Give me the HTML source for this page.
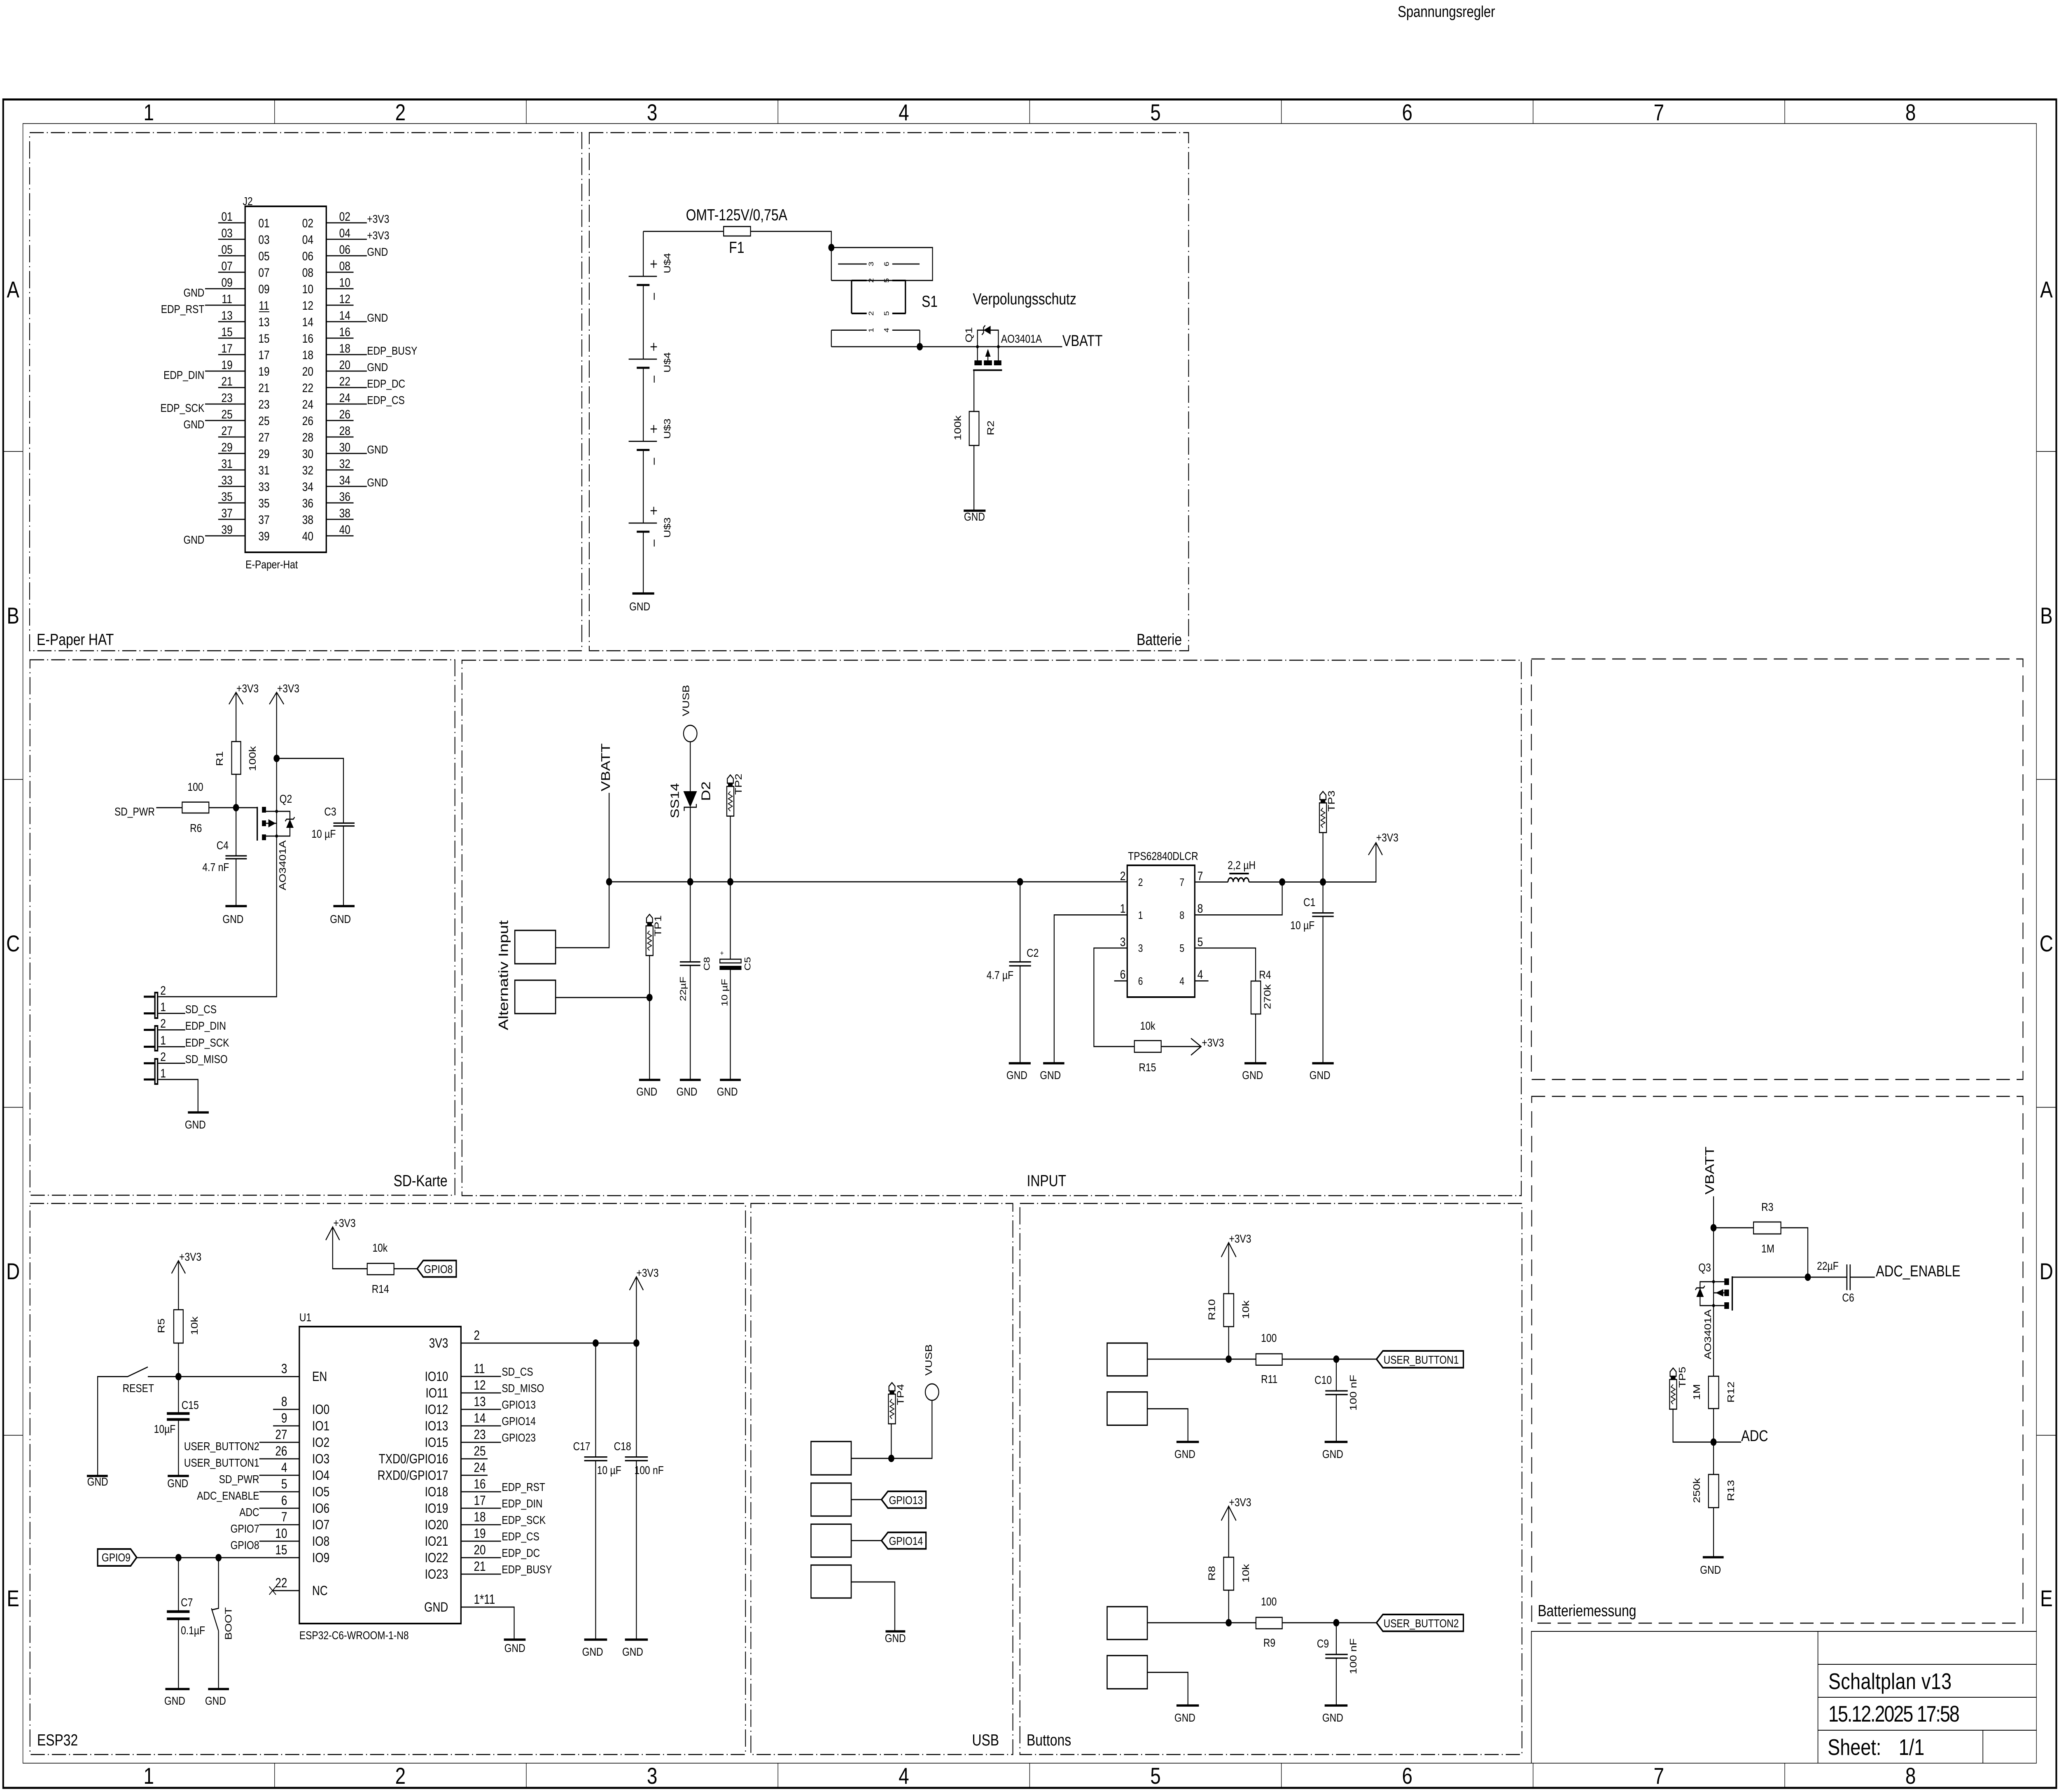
<!DOCTYPE html>
<html><head><meta charset="utf-8"><title>Schaltplan v13</title>
<style>
html,body{margin:0;padding:0;background:#fff;width:100%;height:100%;overflow:hidden}
svg{display:block;width:100vw;height:100vh;font-size:28px}
text{font-family:"Liberation Sans",sans-serif;fill:#000}
.w{stroke:#000;stroke-width:2.7;fill:none}
.b{stroke:#000;stroke-width:4;fill:none}
.g{stroke:#000;stroke-width:5.5;fill:none}
.p{stroke:#000;stroke-width:3.2;fill:none}
.dd{stroke:#000;stroke-width:2.5;fill:none;stroke-dasharray:42 9 3 9}
.ds{stroke:#000;stroke-width:2.5;fill:none;stroke-dasharray:40 20}
.r{dominant-baseline:central;text-anchor:middle}
.m{text-anchor:middle}
.e{text-anchor:end}
</style></head><body>
<svg viewBox="0 0 6115 4351" preserveAspectRatio="none" font-size="28" xmlns="http://www.w3.org/2000/svg">
<defs>
<g id="tp"><path class="w" d="M-9,20V9L0,0L9,9V20Z"/><rect x="-7" y="20" width="14" height="8"/><rect class="w" x="-10.5" y="28" width="21" height="72"/><path style="stroke:#000;stroke-width:2;fill:none" d="M0,40L-6,46L6,52L-6,58L6,64L-6,70L6,76L-6,82L0,88"/></g>
<circle id="j" r="9"/>
<circle id="s" r="4"/>
</defs>
<rect width="6115" height="4351" fill="#fff"/>

<!-- ===== Top title ===== -->
<text x="4151" y="41" font-size="38">Spannungsregler</text>

<!-- ===== Frame ===== -->
<rect x="9.5" y="241.5" width="6097.5" height="4099.5" fill="none" stroke="#000" stroke-width="5"/>
<rect x="68" y="300" width="5980" height="3981" fill="none" stroke="#000" stroke-width="1.6"/>
<path stroke="#000" stroke-width="1.6" fill="none" d="M815.5,241.5V300M1563,241.5V300M2310.5,241.5V300M3058,241.5V300M3805.5,241.5V300M4553,241.5V300M5300.5,241.5V300M815.5,4281V4341M1563,4281V4341M2310.5,4281V4341M3058,4281V4341M3805.5,4281V4341M4553,4281V4341M5300.5,4281V4341M9.5,1096.2H68M9.5,1892.4H68M9.5,2688.6H68M9.5,3484.8H68M6048,1096.2H6107M6048,1892.4H6107M6048,2688.6H6107M6048,3484.8H6107"/>
<g font-size="56" class="m">
<text x="441.75" y="292" font-size="56">1</text><text x="1189.25" y="292" font-size="56">2</text><text x="1936.75" y="292" font-size="56">3</text><text x="2684.25" y="292" font-size="56">4</text><text x="3431.75" y="292" font-size="56">5</text><text x="4179.25" y="292" font-size="56">6</text><text x="4926.75" y="292" font-size="56">7</text><text x="5674.25" y="292" font-size="56">8</text>
<text x="441.75" y="4331" font-size="56">1</text><text x="1189.25" y="4331" font-size="56">2</text><text x="1936.75" y="4331" font-size="56">3</text><text x="2684.25" y="4331" font-size="56">4</text><text x="3431.75" y="4331" font-size="56">5</text><text x="4179.25" y="4331" font-size="56">6</text><text x="4926.75" y="4331" font-size="56">7</text><text x="5674.25" y="4331" font-size="56">8</text>
<text x="38.75" y="722" font-size="56">A</text><text x="38.75" y="1514" font-size="56">B</text><text x="38.75" y="2310" font-size="56">C</text><text x="38.75" y="3106" font-size="56">D</text><text x="38.75" y="3900" font-size="56">E</text>
<text x="6077.5" y="722" font-size="56">A</text><text x="6077.5" y="1514" font-size="56">B</text><text x="6077.5" y="2310" font-size="56">C</text><text x="6077.5" y="3106" font-size="56">D</text><text x="6077.5" y="3900" font-size="56">E</text>
</g>

<!-- ===== Section boxes ===== -->
<rect class="dd" x="88" y="322" width="1640" height="1258"/>
<rect class="dd" x="1750" y="322" width="1780" height="1258"/>
<rect class="dd" x="89" y="1602" width="1262" height="1300"/>
<rect class="dd" x="1372" y="1603" width="3146" height="1300"/>
<rect class="dd" x="89" y="2922" width="2125" height="1338"/>
<rect class="dd" x="2230" y="2922" width="778" height="1338"/>
<rect class="dd" x="3029" y="2922" width="1491" height="1338"/>
<rect class="ds" x="4548" y="1600" width="1460" height="1021"/>
<rect class="ds" x="4549" y="2662" width="1459" height="1279"/>
<g font-size="39">
<text x="109" y="1566" font-size="39">E-Paper HAT</text>
<text x="3510" y="1566" font-size="39" class="e">Batterie</text>
<text x="1329" y="2880" font-size="39" class="e">SD-Karte</text>
<text x="3108" y="2880" font-size="39" class="m">INPUT</text>
<text x="110" y="4238" font-size="39">ESP32</text>
<text x="2967" y="4238" font-size="39" class="e">USB</text>
<text x="3049" y="4238" font-size="39">Buttons</text>
<text x="4567" y="3924" font-size="39">Batteriemessung</text>
</g>

<!-- ===== Title block ===== -->
<path stroke="#000" stroke-width="2" fill="none" d="M4548,4281V3961H6048M5399,3961V4281M5399,4041H6048M5399,4121H6048M5399,4201H6048M5889,4201V4281"/>
<text x="5430" y="4101" font-size="55" textLength="366">Schaltplan v13</text>
<text x="5430" y="4180" font-size="55" textLength="390">15.12.2025 17:58</text>
<text x="5428" y="4261" font-size="55">Sheet:</text>
<text x="5639" y="4261" font-size="55">1/1</text>

<!-- ===== E-Paper HAT (J2) ===== -->
<rect class="b" x="728" y="501" width="241" height="840"/>
<path class="w" d="M648,541H728M648,581H728M648,621H728M648,661H728M609,701H728M609,741H728M648,781H728M648,821H728M648,861H728M609,901H728M648,941H728M609,981H728M609,1021H728M648,1061H728M648,1101H728M648,1141H728M648,1181H728M648,1221H728M648,1261H728M609,1301H728"/>
<path class="w" d="M969,541H1089.5M969,581H1089.5M969,621H1089.5M969,661H1050M969,701H1050M969,741H1050M969,781H1089.5M969,821H1050M969,861H1089.5M969,901H1089.5M969,941H1089.5M969,981H1089.5M969,1021H1050M969,1061H1050M969,1101H1089.5M969,1141H1050M969,1181H1089.5M969,1221H1050M969,1261H1050M969,1301H1050"/>
<path stroke="#000" stroke-width="2" d="M769,757H800"/>
<g class="m" font-size="30">
<text x="674" y="536" font-size="30">01</text><text x="784" y="552" font-size="30">01</text><text x="914" y="552" font-size="30">02</text><text x="1024" y="536" font-size="30">02</text>
<text x="674" y="576" font-size="30">03</text><text x="784" y="592" font-size="30">03</text><text x="914" y="592" font-size="30">04</text><text x="1024" y="576" font-size="30">04</text>
<text x="674" y="616" font-size="30">05</text><text x="784" y="632" font-size="30">05</text><text x="914" y="632" font-size="30">06</text><text x="1024" y="616" font-size="30">06</text>
<text x="674" y="656" font-size="30">07</text><text x="784" y="672" font-size="30">07</text><text x="914" y="672" font-size="30">08</text><text x="1024" y="656" font-size="30">08</text>
<text x="674" y="696" font-size="30">09</text><text x="784" y="712" font-size="30">09</text><text x="914" y="712" font-size="30">10</text><text x="1024" y="696" font-size="30">10</text>
<text x="674" y="736" font-size="30">11</text><text x="784" y="752" font-size="30">11</text><text x="914" y="752" font-size="30">12</text><text x="1024" y="736" font-size="30">12</text>
<text x="674" y="776" font-size="30">13</text><text x="784" y="792" font-size="30">13</text><text x="914" y="792" font-size="30">14</text><text x="1024" y="776" font-size="30">14</text>
<text x="674" y="816" font-size="30">15</text><text x="784" y="832" font-size="30">15</text><text x="914" y="832" font-size="30">16</text><text x="1024" y="816" font-size="30">16</text>
<text x="674" y="856" font-size="30">17</text><text x="784" y="872" font-size="30">17</text><text x="914" y="872" font-size="30">18</text><text x="1024" y="856" font-size="30">18</text>
<text x="674" y="896" font-size="30">19</text><text x="784" y="912" font-size="30">19</text><text x="914" y="912" font-size="30">20</text><text x="1024" y="896" font-size="30">20</text>
<text x="674" y="936" font-size="30">21</text><text x="784" y="952" font-size="30">21</text><text x="914" y="952" font-size="30">22</text><text x="1024" y="936" font-size="30">22</text>
<text x="674" y="976" font-size="30">23</text><text x="784" y="992" font-size="30">23</text><text x="914" y="992" font-size="30">24</text><text x="1024" y="976" font-size="30">24</text>
<text x="674" y="1016" font-size="30">25</text><text x="784" y="1032" font-size="30">25</text><text x="914" y="1032" font-size="30">26</text><text x="1024" y="1016" font-size="30">26</text>
<text x="674" y="1056" font-size="30">27</text><text x="784" y="1072" font-size="30">27</text><text x="914" y="1072" font-size="30">28</text><text x="1024" y="1056" font-size="30">28</text>
<text x="674" y="1096" font-size="30">29</text><text x="784" y="1112" font-size="30">29</text><text x="914" y="1112" font-size="30">30</text><text x="1024" y="1096" font-size="30">30</text>
<text x="674" y="1136" font-size="30">31</text><text x="784" y="1152" font-size="30">31</text><text x="914" y="1152" font-size="30">32</text><text x="1024" y="1136" font-size="30">32</text>
<text x="674" y="1176" font-size="30">33</text><text x="784" y="1192" font-size="30">33</text><text x="914" y="1192" font-size="30">34</text><text x="1024" y="1176" font-size="30">34</text>
<text x="674" y="1216" font-size="30">35</text><text x="784" y="1232" font-size="30">35</text><text x="914" y="1232" font-size="30">36</text><text x="1024" y="1216" font-size="30">36</text>
<text x="674" y="1256" font-size="30">37</text><text x="784" y="1272" font-size="30">37</text><text x="914" y="1272" font-size="30">38</text><text x="1024" y="1256" font-size="30">38</text>
<text x="674" y="1296" font-size="30">39</text><text x="784" y="1312" font-size="30">39</text><text x="914" y="1312" font-size="30">40</text><text x="1024" y="1296" font-size="30">40</text>
</g>
<g class="e">
<text x="607" y="720">GND</text><text x="607" y="760">EDP_RST</text><text x="607" y="920">EDP_DIN</text><text x="607" y="1000">EDP_SCK</text><text x="607" y="1040">GND</text><text x="607" y="1320">GND</text>
</g>
<text x="1090" y="541">+3V3</text><text x="1090" y="581">+3V3</text><text x="1090" y="621">GND</text><text x="1090" y="781">GND</text><text x="1090" y="861">EDP_BUSY</text><text x="1090" y="901">GND</text><text x="1090" y="941">EDP_DC</text><text x="1090" y="981">EDP_CS</text><text x="1090" y="1101">GND</text><text x="1090" y="1181">GND</text>
<text x="721" y="498">J2</text>
<text x="729" y="1380">E-Paper-Hat</text>

<!-- ===== Batterie ===== -->
<path class="w" d="M1910.5,561.8V671M1910.5,692V872M1910.5,893V1071.5M1910.5,1092.5V1270M1910.5,1291V1441"/>
<path class="w" d="M1867,671H1951M1867,872H1951M1867,1071.5H1951M1867,1270H1951"/>
<path stroke="#000" stroke-width="5" d="M1891,692H1929M1891,893H1929M1891,1092.5H1929M1891,1291H1929"/>
<path stroke="#000" stroke-width="2.5" d="M1932,641H1951M1941.5,631.5V650.5M1943,711V728M1932,842H1951M1941.5,832.5V851.5M1943,912V929M1932,1041.5H1951M1941.5,1032V1051M1943,1111.5V1128.5M1932,1240H1951M1941.5,1230.5V1249.5M1943,1310V1327"/>
<text class="r" font-size="27" transform="translate(1983,639) rotate(-90)">U$4</text>
<text class="r" font-size="27" transform="translate(1983,880) rotate(-90)">U$4</text>
<text class="r" font-size="27" transform="translate(1983,1041) rotate(-90)">U$3</text>
<text class="r" font-size="27" transform="translate(1983,1281) rotate(-90)">U$3</text>
<path class="g" d="M1878,1441H1943"/>
<text x="1900" y="1482" class="m">GND</text>
<path class="w" d="M1910.5,561.8H2149M2229,561.8H2469V681M2469,601H2769.5V681H2469"/>
<rect class="w" x="2149" y="550" width="80" height="23"/>
<use href="#j" x="2469" y="601"/>
<path class="w" d="M2489,641H2574M2650,641H2731"/>
<path class="b" d="M2529,681V761M2689,681V761M2529,681H2574M2650,681H2690M2529,761H2574M2650,761H2690"/>
<path class="w" d="M2469,801.6H2574M2650,801.6H2731.6M2469,801.6V841.8M2731.6,801.6V841.8M2469,841.8H3154.6"/>
<use href="#j" x="2731.6" y="841.8"/>
<g font-size="20">
<text class="r" font-size="20" transform="translate(2587,641) rotate(-90)">3</text>
<text class="r" font-size="20" transform="translate(2633,641) rotate(-90)">6</text>
<text class="r" font-size="20" transform="translate(2587,681) rotate(-90)">2</text>
<text class="r" font-size="20" transform="translate(2633,681) rotate(-90)">5</text>
<text class="r" font-size="20" transform="translate(2587,761) rotate(-90)">2</text>
<text class="r" font-size="20" transform="translate(2633,761) rotate(-90)">5</text>
<text class="r" font-size="20" transform="translate(2587,801.6) rotate(-90)">1</text>
<text class="r" font-size="20" transform="translate(2633,801.6) rotate(-90)">4</text>
</g>
<text x="2037" y="535" font-size="39">OMT-125V/0,75A</text>
<text x="2165" y="614" font-size="39">F1</text>
<text x="2737" y="745" font-size="39">S1</text>
<text x="2889" y="739" font-size="39">Verpolungsschutz</text>
<!-- Q1 -->
<use href="#s" x="2903" y="841.8"/><use href="#s" x="2965" y="841.8"/>
<path class="w" d="M2903,841.8V801.6H2965V841.8M2903,841.8V876M2965,841.8V876"/>
<path d="M2921,801.6L2942,791V812Z"/>
<path class="w" d="M2916,813L2921,808V795L2926,790"/>
<rect x="2894" y="875" width="22" height="12"/><rect x="2922" y="875" width="24" height="12"/><rect x="2952" y="875" width="22" height="12"/>
<path d="M2934,847L2926,866H2942Z"/><path class="w" d="M2934,866V876"/>
<path class="b" d="M2890,898.7H2976"/>
<path class="w" d="M2892.5,898.7V999M2892.5,1081.6V1240"/>
<rect class="w" x="2878.5" y="999" width="29" height="82.6"/>
<path class="g" d="M2862,1240H2927"/>
<text x="2894" y="1264" class="m">GND</text>
<text class="r" transform="translate(2878,813) rotate(-90)">Q1</text>
<text x="2973" y="832">AO3401A</text>
<text x="3155" y="840" font-size="38">VBATT</text>
<text class="r" transform="translate(2845,1039) rotate(-90)">100k</text>
<text class="r" transform="translate(2943,1039) rotate(-90)">R2</text>

<!-- ===== SD-Karte ===== -->
<path class="w" d="M680,1710L701,1681L722,1710M701,1681V1800.5M701,1880V2078M701,2084.5V2200"/>
<rect class="w" x="688" y="1800.5" width="27" height="79.5"/>
<path class="p" d="M669.5,2078H733M669.5,2085H733"/>
<path class="g" d="M669.5,2200H733"/>
<use href="#j" x="701" y="1961"/>
<path class="w" d="M464,1961H541M620,1961H764"/>
<rect class="w" x="541" y="1947.5" width="79.4" height="26.5"/>
<path class="b" d="M764,1959V2041"/>
<rect x="778" y="1959" width="12" height="14"/><rect x="778" y="1992" width="12" height="14"/><rect x="778" y="2026" width="12" height="14"/>
<path class="w" d="M790,1970H821.5M790,2030H821.5M790,1999H821.5M821.5,1681V2420H470M800,1710L821.5,1681L843,1710"/>
<path d="M819,1999L797,1989V2009Z"/>
<path class="w" d="M821.5,1970H861V2030H821.5"/>
<path d="M861,1989L850,2010H872Z"/>
<path class="w" d="M847,1994L851,1989H871L875,1984"/>
<use href="#s" x="821.5" y="1970"/><use href="#s" x="821.5" y="2030"/>
<use href="#j" x="821.5" y="1841.4"/>
<path class="w" d="M821.5,1841.4H1020V1998.5M1020,2005V2200"/>
<path class="p" d="M990,1998.5H1053M990,2005.5H1053"/>
<path class="g" d="M990,2200H1053"/>
<text x="702" y="1681">+3V3</text>
<text x="823" y="1681">+3V3</text>
<text class="r" transform="translate(653,1842) rotate(-90)">R1</text>
<text class="r" transform="translate(751,1842) rotate(-90)">100k</text>
<text x="557" y="1920">100</text>
<text x="564" y="2020">R6</text>
<text x="340" y="1980">SD_PWR</text>
<text x="643" y="2062">C4</text>
<text x="601" y="2115">4.7 nF</text>
<text x="692" y="2241" class="m">GND</text>
<text x="830" y="1949">Q2</text>
<text class="r" transform="translate(840,2101) rotate(-90)">AO3401A</text>
<text x="963" y="1980">C3</text>
<text x="925" y="2034">10 µF</text>
<text x="1011" y="2241" class="m">GND</text>
<rect x="460" y="2410" width="8" height="62" fill="#fff" stroke="#000" stroke-width="4"/>
<rect x="460" y="2491" width="8" height="60" fill="#fff" stroke="#000" stroke-width="4"/>
<rect x="460" y="2571" width="8" height="61" fill="#fff" stroke="#000" stroke-width="4"/>
<path stroke="#000" stroke-width="5" d="M427,2420H458M427,2460.5H458M427,2500.5H458M427,2541.5H458M427,2581.6H458M427,2621H458"/>
<path class="w" d="M470,2460.5H550M470,2500.5H550M470,2541.5H550M470,2581.6H550M470,2621H588V2701"/>
<path class="g" d="M558,2701H620"/>
<g font-size="30">
<text x="476" y="2415" font-size="30">2</text><text x="476" y="2455" font-size="30">1</text><text x="476" y="2495" font-size="30">2</text><text x="476" y="2536" font-size="30">1</text><text x="476" y="2576" font-size="30">2</text><text x="476" y="2616" font-size="30">1</text>
</g>
<text x="550" y="2460">SD_CS</text>
<text x="550" y="2500">EDP_DIN</text>
<text x="550" y="2541">EDP_SCK</text>
<text x="550" y="2581">SD_MISO</text>
<text x="580" y="2740" class="m">GND</text>

<!-- ===== INPUT ===== -->
<path class="w" d="M1809,2141H3347.7M1809,1925V2301H1650"/>
<use href="#j" x="1809" y="2141"/>
<text class="r" font-size="37" transform="translate(1799,1863) rotate(-90)">VBATT</text>
<rect class="p" x="1529" y="2259" width="121" height="81"/>
<rect class="p" x="1529" y="2380" width="121" height="81"/>
<text class="r" font-size="40" transform="translate(1495,2368) rotate(-90)">Alternativ Input</text>
<path class="w" d="M1650,2422H1929M1929,2320V2622"/>
<use href="#j" x="1929" y="2422"/>
<use href="#tp" x="1929" y="2220"/>
<text class="r" transform="translate(1955,2248) rotate(-90)">TP1</text>
<path class="g" d="M1898,2622H1961"/>
<text x="1921" y="2660" class="m">GND</text>
<!-- D2 -->
<circle class="w" cx="2050" cy="1781" r="20"/>
<text class="r" transform="translate(2038,1701) rotate(-90)">VUSB</text>
<path class="w" d="M2050,1801V1921M2050,1960V2335.5M2050,2344V2622"/>
<path d="M2029.5,1921H2070L2050,1960Z"/>
<path class="w" d="M2032,1969L2032,1960H2068V1952"/>
<use href="#j" x="2050" y="2141"/>
<path class="p" d="M2019,2335.5H2080M2019,2344H2080"/>
<path class="g" d="M2019,2622H2081"/>
<text x="2040" y="2660" class="m">GND</text>
<text class="r" font-size="35" transform="translate(2004,1944) rotate(-90)">SS14</text>
<text class="r" font-size="37" transform="translate(2097,1921) rotate(-90)">D2</text>
<text class="r" font-size="26" transform="translate(2100,2340) rotate(-90)">C8</text>
<text class="r" font-size="26" transform="translate(2029,2401) rotate(-90)">22µF</text>
<!-- TP2 / C5 -->
<use href="#tp" x="2169" y="1881.5"/>
<text class="r" transform="translate(2194,1904) rotate(-90)">TP2</text>
<path class="w" d="M2169,1981.5V2329M2169,2354V2622"/>
<use href="#j" x="2169" y="2141"/>
<rect class="w" x="2138" y="2329" width="63" height="9"/>
<rect x="2137" y="2345" width="65" height="10"/>
<text x="2144" y="2320" font-size="18" class="m">+</text>
<path class="g" d="M2138,2622H2200"/>
<text x="2160" y="2660" class="m">GND</text>
<text class="r" font-size="26" transform="translate(2221,2340) rotate(-90)">C5</text>
<text class="r" font-size="26" transform="translate(2153,2410) rotate(-90)">10 µF</text>
<!-- C2 -->
<use href="#j" x="3029.5" y="2141"/>
<path class="w" d="M3029.5,2141V2335.5M3029.5,2345V2581.6"/>
<path class="p" d="M2997,2335.5H3062M2997,2345H3062"/>
<path class="g" d="M2996,2581.6H3061"/>
<text x="3020" y="2620" class="m">GND</text>
<text x="2930" y="2377">4.7 µF</text>
<text x="3049" y="2323">C2</text>
<!-- TPS -->
<rect class="b" x="3347.7" y="2101" width="200.6" height="320"/>
<text x="3350" y="2088">TPS62840DLCR</text>
<path class="w" d="M3347.7,2221.4H3130.7V2581.6M3347.7,2301.8H3248.7V2541H3369M3448.5,2541H3567M3537,2521L3567,2541L3537,2562M3309,2381.6H3347.7M3548.3,2381.6H3589M3548.3,2301.8H3729V2382M3729,2462V2581.6M3548.3,2221.4H3808V2141.5M3548.3,2141.5H3647"/>
<path style="stroke:#000;stroke-width:3.5;fill:none" d="M3647,2141.5a7.75,10 0 0 1 15.5,0a7.75,10 0 0 1 15.5,0a7.75,10 0 0 1 15.5,0a7.75,10 0 0 1 15.5,0"/>
<path class="b" d="M3651,2121H3709"/>
<path class="w" d="M3709,2141.5H4086.5V2046M4064,2076L4086.5,2046L4105.5,2076"/>
<use href="#j" x="3808" y="2141.5"/>
<rect class="w" x="3369" y="2526.6" width="79.5" height="28.4"/>
<rect class="w" x="3715.4" y="2382" width="28.6" height="80"/>
<path class="g" d="M3098,2581.6H3161M3696,2581.6H3761M3897,2581.6H3961"/>
<text x="3119.5" y="2620" class="m">GND</text>
<text x="3720" y="2620" class="m">GND</text>
<text x="3920" y="2620" class="m">GND</text>
<g font-size="30">
<text x="3343" y="2137" class="e" font-size="30">2</text><text x="3343" y="2216" class="e" font-size="30">1</text><text x="3343" y="2297" class="e" font-size="30">3</text><text x="3343" y="2376" class="e" font-size="30">6</text>
<text x="3556" y="2137" font-size="30">7</text><text x="3556" y="2216" font-size="30">8</text><text x="3556" y="2297" font-size="30">5</text><text x="3556" y="2376" font-size="30">4</text>
</g>
<g font-size="26">
<text x="3380" y="2151" font-size="26">2</text><text x="3380" y="2231" font-size="26">1</text><text x="3380" y="2311" font-size="26">3</text><text x="3380" y="2391" font-size="26">6</text>
<text x="3503" y="2151" font-size="26">7</text><text x="3503" y="2231" font-size="26">8</text><text x="3503" y="2311" font-size="26">5</text><text x="3503" y="2391" font-size="26">4</text>
</g>
<text x="3569" y="2541">+3V3</text>
<text x="3386" y="2500">10k</text>
<text x="3382" y="2601">R15</text>
<text x="3739" y="2376">R4</text>
<text class="r" transform="translate(3765,2420) rotate(-90)">270k</text>
<text x="3646" y="2110">2,2 µH</text>
<use href="#tp" x="3929" y="1921.5"/>
<text class="r" transform="translate(3955,1945) rotate(-90)">TP3</text>
<path class="w" d="M3929,2021.5V2216.6M3929,2225V2581.6"/>
<use href="#j" x="3929" y="2141.5"/>
<path class="p" d="M3897,2216.6H3961M3897,2225H3961"/>
<text x="3871" y="2200">C1</text>
<text x="3832" y="2256">10 µF</text>
<text x="4087" y="2043">+3V3</text>

<!-- ===== ESP32 ===== -->
<rect class="b" x="889" y="3221" width="480" height="721"/>
<text x="889" y="3208">U1</text>
<text x="889" y="3980">ESP32-C6-WROOM-1-N8</text>
<path class="w" d="M439,3342.4H889M811,3422H889M811,3462H889M770,3502H889M770,3542H889M770,3582H889M770,3622H889M770,3662H889M770,3702H889M770,3742H889M406,3782H889M809.5,3862H889"/>
<path style="stroke:#000;stroke-width:2.2;fill:none" d="M799.5,3852L819.5,3872M819.5,3852L799.5,3872"/>
<g font-size="32">
<text x="927" y="3353" font-size="32">EN</text><text x="927" y="3433" font-size="32">IO0</text><text x="927" y="3473" font-size="32">IO1</text><text x="927" y="3513" font-size="32">IO2</text><text x="927" y="3553" font-size="32">IO3</text><text x="927" y="3593" font-size="32">IO4</text><text x="927" y="3633" font-size="32">IO5</text><text x="927" y="3673" font-size="32">IO6</text><text x="927" y="3713" font-size="32">IO7</text><text x="927" y="3753" font-size="32">IO8</text><text x="927" y="3793" font-size="32">IO9</text><text x="927" y="3873" font-size="32">NC</text>
<text x="853" y="3334" class="e" font-size="32">3</text><text x="853" y="3414" class="e" font-size="32">8</text><text x="853" y="3454" class="e" font-size="32">9</text><text x="853" y="3494" class="e" font-size="32">27</text><text x="853" y="3534" class="e" font-size="32">26</text><text x="853" y="3574" class="e" font-size="32">4</text><text x="853" y="3614" class="e" font-size="32">5</text><text x="853" y="3654" class="e" font-size="32">6</text><text x="853" y="3694" class="e" font-size="32">7</text><text x="853" y="3734" class="e" font-size="32">10</text><text x="853" y="3774" class="e" font-size="32">15</text><text x="853" y="3854" class="e" font-size="32">22</text>
<text x="1331" y="3272" class="e" font-size="32">3V3</text><text x="1331" y="3353" class="e" font-size="32">IO10</text><text x="1331" y="3393" class="e" font-size="32">IO11</text><text x="1331" y="3433" class="e" font-size="32">IO12</text><text x="1331" y="3473" class="e" font-size="32">IO13</text><text x="1331" y="3513" class="e" font-size="32">IO15</text><text x="1331" y="3553" class="e" font-size="32">TXD0/GPIO16</text><text x="1331" y="3593" class="e" font-size="32">RXD0/GPIO17</text><text x="1331" y="3633" class="e" font-size="32">IO18</text><text x="1331" y="3673" class="e" font-size="32">IO19</text><text x="1331" y="3713" class="e" font-size="32">IO20</text><text x="1331" y="3753" class="e" font-size="32">IO21</text><text x="1331" y="3793" class="e" font-size="32">IO22</text><text x="1331" y="3833" class="e" font-size="32">IO23</text><text x="1331" y="3913" class="e" font-size="32">GND</text>
<text x="1407" y="3253" font-size="32">2</text><text x="1407" y="3334" font-size="32">11</text><text x="1407" y="3374" font-size="32">12</text><text x="1407" y="3414" font-size="32">13</text><text x="1407" y="3454" font-size="32">14</text><text x="1407" y="3494" font-size="32">23</text><text x="1407" y="3534" font-size="32">25</text><text x="1407" y="3574" font-size="32">24</text><text x="1407" y="3614" font-size="32">16</text><text x="1407" y="3654" font-size="32">17</text><text x="1407" y="3694" font-size="32">18</text><text x="1407" y="3734" font-size="32">19</text><text x="1407" y="3774" font-size="32">20</text><text x="1407" y="3814" font-size="32">21</text><text x="1407" y="3894" font-size="32">1*11</text>
</g>
<g class="e">
<text x="770" y="3521">USER_BUTTON2</text><text x="770" y="3561">USER_BUTTON1</text><text x="770" y="3601">SD_PWR</text><text x="770" y="3641">ADC_ENABLE</text><text x="770" y="3681">ADC</text><text x="770" y="3721">GPIO7</text><text x="770" y="3761">GPIO8</text>
</g>
<path class="w" d="M1369,3342H1488M1369,3382H1488M1369,3422H1488M1369,3462H1488M1369,3502H1488M1369,3542H1448M1369,3582H1448M1369,3622H1488M1369,3662H1488M1369,3702H1488M1369,3742H1488M1369,3782H1488M1369,3822H1488M1369,3261H1890M1369,3902H1527V3981"/>
<text x="1490" y="3340">SD_CS</text><text x="1490" y="3380">SD_MISO</text><text x="1490" y="3420">GPIO13</text><text x="1490" y="3460">GPIO14</text><text x="1490" y="3500">GPIO23</text><text x="1490" y="3620">EDP_RST</text><text x="1490" y="3660">EDP_DIN</text><text x="1490" y="3700">EDP_SCK</text><text x="1490" y="3740">EDP_CS</text><text x="1490" y="3780">EDP_DC</text><text x="1490" y="3820">EDP_BUSY</text>
<path class="g" d="M1496.5,3981H1561M1735,3981H1803M1856,3981H1924"/>
<text x="1529" y="4011" class="m">GND</text>
<use href="#j" x="1769" y="3261"/><use href="#j" x="1890" y="3261"/>
<path class="w" d="M1769,3261V3537.6M1769,3546V3981M1890,3100V3537.6M1890,3546V3981M1869.5,3132.5L1890,3100L1910.5,3132.5"/>
<path class="p" d="M1735,3537.6H1803.6M1735,3546.5H1803.6M1856,3537.6H1924M1856,3546.5H1924"/>
<text x="1760" y="4020" class="m">GND</text><text x="1879" y="4020" class="m">GND</text>
<text x="1702" y="3521">C17</text><text x="1773" y="3579">10 µF</text>
<text x="1823" y="3521">C18</text><text x="1884" y="3579">100 nF</text>
<text x="1890" y="3100">+3V3</text>
<!-- R14 -->
<path class="w" d="M967.5,3011L988,2979L1008.5,3011M988,2979V3080.5H1090.6M1170,3080.5H1239"/>
<rect class="w" x="1090.6" y="3067.5" width="79.4" height="27.5"/>
<path class="b" d="M1239,3080.5L1257,3060.5H1355V3100.5H1257Z"/>
<text x="1259" y="3091">GPIO8</text>
<text x="990" y="2979">+3V3</text>
<text x="1106" y="3039">10k</text>
<text x="1104" y="3139">R14</text>
<!-- R5 / EN / RESET -->
<path class="w" d="M509.5,3092L530,3061L550.5,3092M530,3061V3180M530,3261V3432M530,3446.5V3583.6M290,3583.6V3342.4H379L439,3319"/>
<rect class="w" x="516" y="3180" width="28" height="81"/>
<use href="#j" x="530" y="3342.4"/>
<path stroke="#000" stroke-width="6.5" d="M495.5,3432H563M495.5,3446.5H563"/>
<path class="g" d="M258,3583.6H320M498,3583.6H561"/>
<text x="532" y="3061">+3V3</text>
<text class="r" transform="translate(480,3219) rotate(-90)">R5</text>
<text class="r" transform="translate(578,3219) rotate(-90)">10k</text>
<text x="364" y="3380">RESET</text>
<text x="539" y="3421">C15</text>
<text x="457" y="3479">10µF</text>
<text x="290" y="3607" class="m">GND</text>
<text x="528" y="3611" class="m">GND</text>
<!-- IO9 -->
<path class="b" d="M290,3761H388L406,3781.5L388,3802H290Z"/>
<text x="302" y="3791">GPIO9</text>
<use href="#j" x="530" y="3782"/><use href="#j" x="649" y="3782"/>
<path class="w" d="M530,3782V3913M530,3930.5V4101M649,3782V3905L628,3909M649,3960V4101M628,3905L649,3960"/>
<path stroke="#000" stroke-width="6.5" d="M495.5,3913H563M495.5,3930.5H563"/>
<path class="g" d="M491,4101H563M618,4101H680"/>
<text x="519" y="4139" class="m">GND</text><text x="640" y="4139" class="m">GND</text>
<text x="537" y="3900">C7</text>
<text x="537" y="3968">0.1µF</text>
<text class="r" transform="translate(679,3942) rotate(-90)">BOOT</text>

<!-- ===== USB ===== -->
<rect class="p" x="2408.6" y="3500" width="119.4" height="81"/>
<rect class="p" x="2408.6" y="3601" width="119.4" height="80"/>
<rect class="p" x="2408.6" y="3700.7" width="119.4" height="80"/>
<rect class="p" x="2408.6" y="3800" width="119.4" height="80"/>
<path class="w" d="M2528,3541H2768V3400M2647,3541V3457M2528,3641H2618M2528,3740.6H2618M2528,3841H2657.5V3961"/>
<circle class="w" cx="2768" cy="3380" r="20"/>
<use href="#j" x="2647" y="3541"/>
<use href="#tp" x="2649" y="3357"/>
<text class="r" transform="translate(2675,3386) rotate(-90)">TP4</text>
<text class="r" transform="translate(2759,3302) rotate(-90)">VUSB</text>
<path class="b" d="M2618,3641L2637,3621H2750V3661.6H2637Z"/>
<path class="b" d="M2618,3740.6L2637,3720.6H2750V3760.6H2637Z"/>
<text x="2640" y="3652">GPIO13</text>
<text x="2640" y="3751">GPIO14</text>
<path class="g" d="M2630,3961H2688.5"/>
<text x="2659" y="3987" class="m">GND</text>

<!-- ===== Buttons ===== -->
<rect class="p" x="3288" y="3261" width="119.4" height="79.7"/>
<rect class="p" x="3288" y="3379.7" width="119.4" height="80.7"/>
<path class="w" d="M3407.4,3300H3730M3808,3300H4088M3627,3052L3649,3017L3671,3052M3649,3017V3141M3649,3221V3300M3968.6,3300V3377M3968.6,3386V3501M3407.4,3420.5H3528V3501"/>
<rect class="w" x="3730" y="3287" width="78" height="27.7"/>
<rect class="w" x="3634" y="3141" width="30" height="80"/>
<use href="#j" x="3649" y="3300"/><use href="#j" x="3968.6" y="3300"/>
<path class="p" d="M3936,3377H4002.6M3936,3386H4002.6"/>
<path class="b" d="M4088,3300L4107,3280H4346V3320.7H4107Z"/>
<text x="4109" y="3311">USER_BUTTON1</text>
<path class="g" d="M3934,3501H4002M3494,3501H3560.6"/>
<text x="3650" y="3017">+3V3</text>
<text class="r" transform="translate(3600,3180) rotate(-90)">R10</text>
<text class="r" transform="translate(3700.6,3180) rotate(-90)">10k</text>
<text x="3745" y="3258">100</text>
<text x="3745" y="3358">R11</text>
<text x="3904" y="3360">C10</text>
<text class="r" transform="translate(4020,3381.5) rotate(-90)">100 nF</text>
<text x="3958" y="3540" class="m">GND</text>
<text x="3519" y="3540" class="m">GND</text>

<rect class="p" x="3288" y="3901" width="119.4" height="79.7"/>
<rect class="p" x="3288" y="4019.7" width="119.4" height="80.7"/>
<path class="w" d="M3407.4,3940H3730M3808,3940H4088M3627,3692L3649,3657L3671,3692M3649,3657V3781M3649,3861V3940M3968.6,3940V4017M3968.6,4026V4141M3407.4,4060.5H3528V4141"/>
<rect class="w" x="3730" y="3927" width="78" height="27.7"/>
<rect class="w" x="3634" y="3781" width="30" height="80"/>
<use href="#j" x="3649" y="3940"/><use href="#j" x="3968.6" y="3940"/>
<path class="p" d="M3936,4017H4002.6M3936,4026H4002.6"/>
<path class="b" d="M4088,3940L4107,3920H4346V3960.7H4107Z"/>
<text x="4109" y="3951">USER_BUTTON2</text>
<path class="g" d="M3934,4141H4002M3494,4141H3560.6"/>
<text x="3650" y="3657">+3V3</text>
<text class="r" transform="translate(3600,3820) rotate(-90)">R8</text>
<text class="r" transform="translate(3700.6,3820) rotate(-90)">10k</text>
<text x="3745" y="3898">100</text>
<text x="3752" y="3998">R9</text>
<text x="3911" y="4000">C9</text>
<text class="r" transform="translate(4020,4021.5) rotate(-90)">100 nF</text>
<text x="3958" y="4180" class="m">GND</text>
<text x="3519" y="4180" class="m">GND</text>

<!-- ===== Batteriemessung ===== -->
<text class="r" font-size="37" transform="translate(5078,2842) rotate(-90)">VBATT</text>
<path class="w" d="M5089,2904.6V3341.5M5089,2981H5207.7M5289,2981H5369V3101M5144.6,3101H5485M5494.7,3101H5568M5089,3112H5121M5089,3170H5121M5089,3139H5121M5089,3112H5049V3170H5089M5089,3420V3580M5089,3660.6V3781M5089,3501.4H5171M5089,3501.4H4968.6V3420"/>
<use href="#j" x="5089" y="2981"/><use href="#j" x="5369" y="3101"/><use href="#j" x="5089" y="3501.4"/>
<use href="#s" x="5089" y="3112"/><use href="#s" x="5089" y="3170"/>
<rect class="w" x="5207.7" y="2967" width="81.3" height="29"/>
<path class="b" d="M5144.6,3099V3182"/>
<rect x="5121" y="3104" width="14" height="16"/><rect x="5121" y="3131" width="14" height="16"/><rect x="5121" y="3162" width="14" height="16"/>
<path d="M5095,3139L5118,3130V3148Z"/>
<path d="M5049,3127L5038,3149H5060Z"/>
<path class="w" d="M5035,3132L5039,3127H5059L5063,3122"/>
<path class="p" d="M5485,3070V3132.5M5494.7,3070V3132.5"/>
<rect class="w" x="5074" y="3341.5" width="30.4" height="78.5"/>
<rect class="w" x="5074" y="3580" width="30.4" height="80.6"/>
<use href="#tp" x="4969" y="3321.5"/>
<path class="g" d="M5057,3781H5119"/>
<text x="5080" y="3821" class="m">GND</text>
<text x="5231" y="2940">R3</text>
<text x="5231" y="3041">1M</text>
<text x="5044" y="3087">Q3</text>
<text class="r" transform="translate(5073,3240) rotate(-90)">AO3401A</text>
<text x="5396" y="3083">22µF</text>
<text x="5471" y="3160">C6</text>
<text x="5571" y="3099" font-size="38">ADC_ENABLE</text>
<text x="5171" y="3499" font-size="38">ADC</text>
<text class="r" transform="translate(4997,3344) rotate(-90)">TP5</text>
<text class="r" transform="translate(5040,3380) rotate(-90)">1M</text>
<text class="r" transform="translate(5141,3380) rotate(-90)">R12</text>
<text class="r" transform="translate(5040,3619) rotate(-90)">250k</text>
<text class="r" transform="translate(5141,3619) rotate(-90)">R13</text>
</svg>
</body></html>
